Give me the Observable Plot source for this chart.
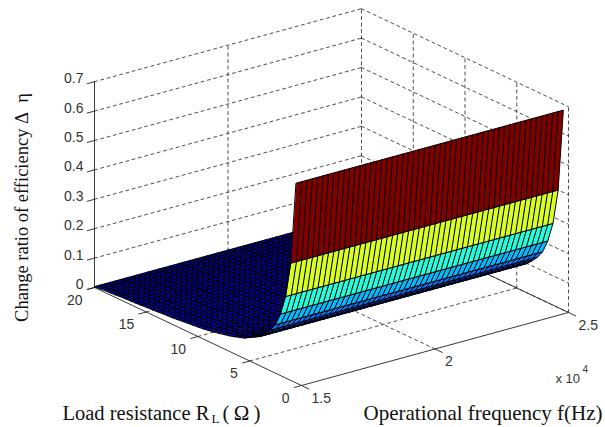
<!DOCTYPE html>
<html><head><meta charset="utf-8">
<script src="https://cdn.jsdelivr.net/npm/d3@7"></script>
<script src="https://cdn.jsdelivr.net/npm/@observablehq/plot@0.6"></script>
<style>html,body{margin:0;padding:0;background:#fff}svg{display:block}</style>
</head><body><div id="chart"></div>
<script>
const zTicks = [0,0.1,0.2,0.3,0.4,0.5,0.6,0.7];
const zTickLabels = ["0","0.1","0.2","0.3","0.4","0.5","0.6","0.7"];
const rTicks = [0,5,10,15,20];
const fTicks = [1.5,2,2.5];
const fTickLabels = ["1.5","2","2.5"];
const resistance = [0.5,1,1.5,2,2.5,3,3.5,4,4.5,5,5.5,6,6.5,7,7.5,8,8.5,9,9.5,10,10.5,11,11.5,12,12.5,13,13.5,14,14.5,15,15.5,16,16.5,17,17.5,18,18.5,19,19.5,20];
const ratio = [0.68,0.40,0.278,0.21,0.165,0.138,0.118,0.10,0.09,0.08,0.07,0.064,0.058,0.053,0.049,0.045,0.041,0.038,0.035,0.033,0.031,0.029,0.027,0.025,0.023,0.022,0.021,0.019,0.018,0.017,0.015,0.014,0.013,0.012,0.011,0.009,0.008,0.007,0.005,0.003];
const frequency = [1.5,1.52,1.54,1.56,1.58,1.6,1.62,1.64,1.66,1.68,1.7,1.72,1.74,1.76,1.78,1.8,1.82,1.84,1.86,1.88,1.9,1.92,1.94,1.96,1.98,2,2.02,2.04,2.06,2.08,2.1,2.12,2.14,2.16,2.18,2.2,2.22,2.24,2.26,2.28,2.3,2.32,2.34,2.36,2.38,2.4,2.42,2.44,2.46,2.48,2.5];
const jetStops = [0,0.085,0.255,0.425,0.595,0.68];
const jetColors = ["#000080","#0000ff","#00ffff","#ffff00","#ff0000","#800000"];

// orthographic view of the MATLAB axes box
const px = (r,f,z) => 301 - 10.35*r + 267*(f-1.5);
const py = (r,f,z) => 385 - 4.9*r - 73*(f-1.5) - 294*z;
const P = (r,f,z) => ({sx:px(r,f,z), sy:py(r,f,z)});
const segs = list => list.flatMap((s,i)=>[{...P(...s[0]),id:i},{...P(...s[1]),id:i}]);

const cells = [];
for (let i=resistance.length-2;i>=0;i--){
  for (let j=frequency.length-2;j>=0;j--){
    const id = i*1000+j, r0=resistance[i], r1=resistance[i+1], f0=frequency[j], f1=frequency[j+1];
    const z0=ratio[i], z1=ratio[i+1];
    [[r0,f0,z0],[r0,f1,z0],[r1,f1,z1],[r1,f0,z1]].forEach(v=>cells.push({...P(...v),id,c:z0}));
  }
}

const zTop = 0.7, rMax = 20, fMin = 1.5, fMax = 2.5;
const dashed = segs([
  ...zTicks.map(z=>[[rMax,fMin,z],[rMax,fMax,z]]),
  ...zTicks.map(z=>[[rMax,fMax,z],[0,fMax,z]]),
  ...fTicks.slice(1).map(f=>[[rMax,f,0],[rMax,f,zTop]]),
  ...rTicks.slice(0,-1).map(r=>[[r,fMax,0],[r,fMax,zTop]]),
  ...rTicks.slice(1,-1).map(r=>[[r,fMin,0],[r,fMax,0]]),
  [[0,2,0],[rMax,2,0]]
]);
const solid = segs([
  [[rMax,fMin,0],[rMax,fMin,zTop]],
  [[rMax,fMin,0],[0,fMin,0]],
  [[0,fMin,0],[0,fMax,0]],
  [[0,fMax,0],[rMax,fMax,0]],
  ...zTicks.map(z=>[[rMax,fMin,z],[rMax,fMin-0.027,z]]),
  ...rTicks.map(r=>[[r,fMin,0],[r,fMin-0.027,0]]),
  ...fTicks.map(f=>[[0,f,0],[-0.7,f,0]])
]);
const tickFont = {fontFamily:"Liberation Sans",fontSize:14,fill:"#333"};
const titleFont = {fontFamily:"Liberation Serif",fontSize:21,fill:"#111",frameAnchor:"top-left",lineAnchor:"middle"};

const chart = Plot.plot({
  width:605,height:427,margin:0,
  x:{domain:[0,605],range:[0,605],axis:null},
  y:{domain:[0,427],range:[0,427],axis:null},
  color:{type:"linear",domain:jetStops,range:jetColors},
  style:{background:"#fff"},
  marks:[
    Plot.line(dashed,{x:"sx",y:"sy",z:"id",stroke:"#222",strokeWidth:0.8,strokeDasharray:"3,3.5"}),
    Plot.line(solid,{x:"sx",y:"sy",z:"id",stroke:"#222",strokeWidth:0.9}),
    Plot.line(cells,{x:"sx",y:"sy",z:"id",fill:"c",stroke:"#000",strokeWidth:1,curve:"linear-closed"}),
    Plot.text(zTicks,{x:z=>px(rMax,fMin,z),y:z=>py(rMax,fMin,z),text:(z,i)=>zTickLabels[i],textAnchor:"end",dx:-11,dy:-3,...tickFont}),
    Plot.text(rTicks,{x:r=>px(r,fMin,0),y:r=>py(r,fMin,0),text:r=>String(r),textAnchor:"end",dx:-12,dy:13,...tickFont}),
    Plot.text(fTicks,{x:f=>px(0,f,0),y:f=>py(0,f,0),text:(f,i)=>fTickLabels[i],textAnchor:"start",dx:10,dy:13,...tickFont}),
    Plot.text(["x 10"],{frameAnchor:"top-left",dx:555,dy:378,lineAnchor:"middle",textAnchor:"start",fontFamily:"Liberation Sans",fontSize:13,fill:"#333"}),
    Plot.text(["4"],{frameAnchor:"top-left",dx:582,dy:369,lineAnchor:"middle",textAnchor:"start",fontFamily:"Liberation Sans",fontSize:10,fill:"#333"}),
    Plot.text(["Change ratio of efficiency Δ\u00a0\u00a0η"],{...titleFont,fontSize:18.5,dx:22,dy:207,rotate:-90,textAnchor:"middle"}),
    Plot.text(["Load resistance R"],{...titleFont,fontSize:20.5,dx:62,dy:413,textAnchor:"start"}),
    Plot.text(["L"],{...titleFont,fontSize:13,dx:211,dy:418,textAnchor:"start"}),
    Plot.text(["(\u2009Ω\u2009)"],{...titleFont,dx:222,dy:413,textAnchor:"start"}),
    Plot.text(["Operational frequency f(Hz)"],{...titleFont,dx:363,dy:413,textAnchor:"start"})
  ]
});
document.getElementById("chart").append(chart);
</script></body></html>
